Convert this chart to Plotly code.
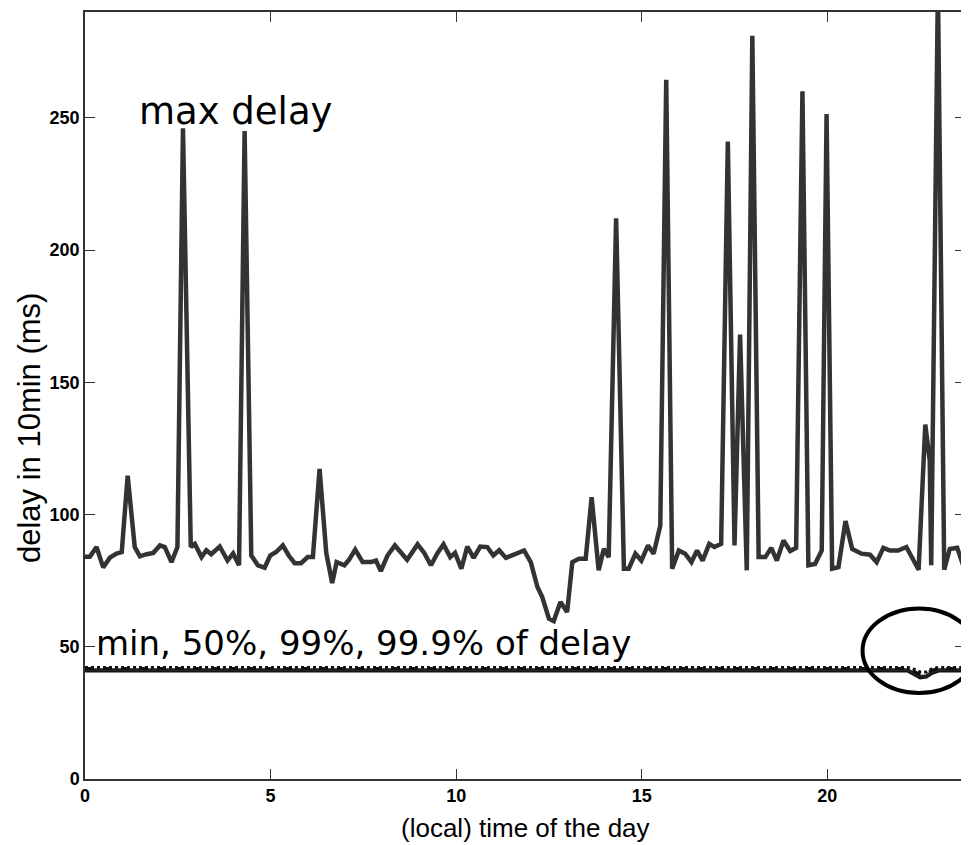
import plotly.graph_objects as go

# ---- data ----
t_max = [0.0, 0.13, 0.31, 0.49, 0.67, 0.85, 0.99, 1.15, 1.34, 1.48, 1.66, 1.84, 2.02, 2.15, 2.33, 2.49,
         2.64, 2.85, 2.96, 3.14, 3.27, 3.40, 3.63, 3.84, 3.99, 4.15, 4.30, 4.48, 4.66, 4.84, 4.99, 5.15,
         5.33, 5.49, 5.65, 5.82, 6.00, 6.14, 6.32, 6.50, 6.66, 6.78, 6.99, 7.12, 7.28, 7.48, 7.71, 7.84,
         7.97, 8.15, 8.35, 8.51, 8.68, 8.96, 9.14, 9.32, 9.50, 9.66, 9.84, 9.97, 10.14, 10.30, 10.47,
         10.65, 10.84, 11.00, 11.16, 11.34, 11.51, 11.69, 11.83, 12.01, 12.19, 12.32, 12.50, 12.63,
         12.81, 12.99, 13.13, 13.31, 13.49, 13.65, 13.84, 13.98, 14.11, 14.31, 14.52, 14.65, 14.83,
         14.99, 15.17, 15.32, 15.50, 15.66, 15.82, 16.00, 16.17, 16.34, 16.49, 16.64, 16.82, 16.96,
         17.14, 17.32, 17.50, 17.65, 17.83, 17.98, 18.15, 18.33, 18.49, 18.64, 18.82, 19.00, 19.16,
         19.33, 19.49, 19.67, 19.85, 19.98, 20.13, 20.30, 20.49, 20.67, 20.92, 21.15, 21.33, 21.51,
         21.69, 21.91, 22.13, 22.46, 22.64, 22.76, 22.80, 22.98, 23.15, 23.30, 23.50, 23.66, 23.83]
max_delay = [84, 84, 87.7, 80, 83.7, 85.2, 85.8, 114.7, 87.7, 84.2, 85, 85.5, 88.3, 87.7, 82, 87.7,
             246, 87.7, 88.9, 83.9, 86.5, 85, 87.9, 82.6, 85.3, 80.8, 245, 84.5, 80.8, 79.9, 84.5, 85.8,
             88.3, 84.5, 81.6, 81.6, 83.9, 83.9, 117.2, 85.5, 74.1, 82, 80.8, 83, 86.7, 82, 82, 82.6,
             78.6, 84.5, 88.3, 85.8, 82.9, 88.7, 85.5, 80.8, 85.5, 88.7, 83.9, 85.5, 79.5, 87.9, 83.6,
             87.9, 87.7, 84.5, 86.5, 83.6, 84.5, 85.8, 86.4, 82, 72.6, 68.8, 60.6, 59.7,
             66.9, 63.1, 82, 83.3, 83.3, 106.5, 78.9, 87, 83.9, 212, 79.5, 79.5, 85.2,
             82.6, 88.3, 85.2, 95.8, 264.4, 79.5, 86.4, 85.2, 82, 86.4, 82.6, 88.9, 87.7,
             88.9, 241, 88.3, 168, 78.9, 281, 83.9, 83.9, 87.4, 82.6, 90.2, 86.2, 87.4,
             260, 80.8, 81.3, 86.4, 251.4, 79.5, 80.1, 97.5, 87, 85.2, 84.8, 82, 87.4,
             86.4, 86.4, 87.7, 79.1, 134, 120.4, 80.8, 300, 79.1, 87, 87.4, 80.8, 86]

t_pct = [0.0, 22.17, 22.33, 22.50, 22.67, 22.83, 23.00, 23.83]
min_delay = [40.8, 40.8, 39.5, 38.2, 38.5, 40.0, 40.8, 40.8]
p50_delay = [41.3, 41.3, 40.0, 38.8, 39.0, 40.5, 41.3, 41.3]
p99_delay = [41.8, 41.8, 40.8, 39.5, 39.8, 41.2, 41.8, 41.8]
p999_delay = [42.2, 42.2, 41.5, 40.5, 40.5, 41.8, 42.2, 42.2]

x_ticks = [0, 5, 10, 15, 20]
y_ticks = [0, 50, 100, 150, 200, 250]

fig = go.Figure()
fig.add_trace(go.Scatter(x=t_max, y=max_delay, mode="lines",
                         line=dict(color="#333333", width=4.5), showlegend=False))
for vals, dash, col in [(min_delay, "solid", "#111111"), (p50_delay, "solid", "#222222"),
                        (p99_delay, "dash", "#111111"), (p999_delay, "dot", "#111111")]:
    fig.add_trace(go.Scatter(x=t_pct, y=vals, mode="lines",
                             line=dict(color=col, width=3, dash=dash), showlegend=False))

fig.add_shape(type="circle", xref="x", yref="y", x0=20.95, x1=24.0, y0=32.5, y1=64.5,
              line=dict(color="black", width=4))

fig.add_annotation(x=1.4, y=252.5, xref="x", yref="y", text="max delay", showarrow=False,
                   xanchor="left", yanchor="middle",
                   font=dict(family="DejaVu Sans", size=37, color="black"))
fig.add_annotation(x=0.25, y=51.3, xref="x", yref="y", text="min, 50%, 99%, 99.9% of delay",
                   showarrow=False, xanchor="left", yanchor="middle",
                   font=dict(family="DejaVu Sans", size=34, color="black"))

fig.add_annotation(x=0.5, y=-0.064, xref="paper", yref="paper", text="(local) time of the day",
                   showarrow=False, xanchor="center", yanchor="middle",
                   font=dict(family="Liberation Sans", size=26, color="black"))
fig.add_annotation(x=-0.063, y=0.457, xref="paper", yref="paper", text="delay in 10min (ms)",
                   showarrow=False, xanchor="center", yanchor="middle", textangle=-90,
                   font=dict(family="Liberation Sans", size=31, color="black"))

axis_common = dict(showgrid=False, zeroline=False, showline=True, linecolor="#333333", linewidth=1.5,
                   mirror="ticks", ticks="inside", ticklen=10, tickcolor="#333333", tickwidth=1,
                   tickfont=dict(family="Liberation Sans", size=18, color="black", weight="bold"))
fig.update_xaxes(range=[0, 23.71], tickvals=x_ticks, ticktext=[str(v) for v in x_ticks], **axis_common)
fig.update_yaxes(range=[0, 290], tickvals=y_ticks, ticktext=[str(v) for v in y_ticks], **axis_common)

fig.update_layout(width=961, height=837, margin=dict(l=77, r=2, t=3, b=66),
                  plot_bgcolor="white", paper_bgcolor="white")

fig.write_html("out.html")
